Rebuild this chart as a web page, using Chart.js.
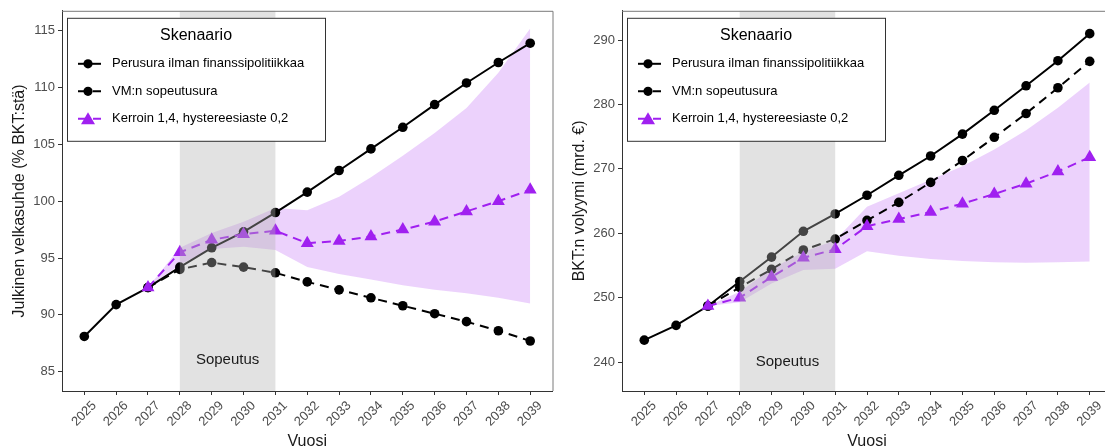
<!DOCTYPE html>
<html>
<head>
<meta charset="utf-8">
<script src="https://cdn.jsdelivr.net/npm/chart.js@4.4.1/dist/chart.umd.min.js"></script>
<style>
    html, body { margin: 0; padding: 0; background: #fff; overflow: hidden; }
    body { width: 1105px; height: 448px; position: relative; }
    .paneeli { position: absolute; top: 0; width: 560px; height: 448px; }
</style>
</head>
<body>
<div class="paneeli" style="left:0"><canvas id="velkaChart" width="560" height="448"></canvas></div>
<div class="paneeli" style="left:560px"><canvas id="bktChart" width="560" height="448"></canvas></div>
<script>
const vuodet = [2025, 2026, 2027, 2028, 2029, 2030, 2031, 2032, 2033, 2034, 2035, 2036, 2037, 2038, 2039];
const sopeutusJakso = [2028, 2031];
const legendaOtsikko = 'Skenaario';
const skenaariot = ['Perusura ilman finanssipolitiikkaa', 'VM:n sopeutusura', 'Kerroin 1,4, hystereesiaste 0,2'];

// Julkinen velkasuhde
const velkaTicks = [85, 90, 95, 100, 105, 110, 115];
const velkaPerusura = [88.1, 90.9, 92.4, 94.2, 95.9, 97.3, 99.0, 100.8, 102.7, 104.6, 106.5, 108.5, 110.4, 112.2, 113.9];
const velkaVM = [null, null, 92.4, 94.0, 94.6, 94.2, 93.7, 92.9, 92.2, 91.5, 90.8, 90.1, 89.4, 88.6, 87.7];
const velkaKerroin = [null, null, 92.4, 95.5, 96.6, 97.1, 97.4, 96.3, 96.5, 96.9, 97.5, 98.2, 99.1, 100.0, 101.0];
const velkaYla = [null, null, 92.4, 95.9, 97.2, 98.2, 99.4, 99.2, 100.4, 102.1, 104.0, 106.0, 108.2, 111.3, 115.2];
const velkaAla = [null, null, 92.4, 94.4, 95.8, 96.0, 95.7, 94.2, 93.6, 93.1, 92.6, 92.2, 91.9, 91.5, 91.0];

// BKT:n volyymi
const bktTicks = [240, 250, 260, 270, 280, 290];
const bktPerusura = [243.4, 245.7, 248.7, 252.5, 256.3, 260.3, 263.0, 265.9, 269.0, 272.0, 275.4, 279.1, 282.9, 286.8, 291.0];
const bktVM = [null, null, 248.7, 251.6, 254.4, 257.4, 259.1, 262.0, 264.8, 267.9, 271.3, 274.9, 278.6, 282.6, 286.7];
const bktKerroin = [null, null, 248.7, 250.0, 253.2, 256.2, 257.5, 261.1, 262.2, 263.3, 264.6, 266.1, 267.7, 269.6, 271.8];
const bktYla = [null, null, 248.7, 250.9, 254.5, 257.1, 258.9, 264.1, 266.2, 268.3, 270.4, 273.0, 276.0, 279.5, 283.4];
const bktAla = [null, null, 248.7, 249.3, 252.2, 254.3, 254.5, 257.2, 256.5, 256.0, 255.7, 255.5, 255.4, 255.5, 255.6];

const FONTTI = "'Liberation Sans', Arial, sans-serif";
const VIOLETTI = '#A020F0';
const VIOLETTI_TAYTTO = 'rgba(160, 32, 240, 0.2)';
const VIIVAUS = [9, 6];

function pisteet(arvot) {
    return vuodet.map((v, i) => ({ x: v, y: arvot[i] }));
}

// Harmaa sopeutusjakso, Sopeutus-teksti, reunat ja legenda
const koristeet = {
    id: 'koristeet',
    afterDatasetsDraw(chart, args, opts) {
        const { ctx, chartArea } = chart;
        const x = chart.scales.x;
        const y = chart.scales.y;
        const x0 = x.getPixelForValue(sopeutusJakso[0]);
        const x1 = x.getPixelForValue(sopeutusJakso[1]);
        ctx.save();
        ctx.fillStyle = 'rgba(179, 179, 179, 0.38)';
        ctx.fillRect(x0, chartArea.top, x1 - x0, chartArea.bottom - chartArea.top);

        ctx.fillStyle = '#1a1a1a';
        ctx.font = '15px ' + FONTTI;
        ctx.textAlign = 'center';
        ctx.textBaseline = 'middle';
        ctx.fillText('Sopeutus', (x0 + x1) / 2, y.getPixelForValue(opts.sopeutusY));
        ctx.restore();
    },
    afterDraw(chart) {
        const { ctx, chartArea } = chart;
        ctx.save();
        // ylä- ja oikea reuna
        ctx.strokeStyle = '#7a7a7a';
        ctx.lineWidth = 1;
        ctx.beginPath();
        ctx.moveTo(chartArea.left, chartArea.top + 0.5);
        ctx.lineTo(chartArea.right + 0.5, chartArea.top + 0.5);
        ctx.lineTo(chartArea.right + 0.5, chartArea.bottom);
        ctx.stroke();

        // legenda
        const lx = chartArea.left + 5;
        const ly = chartArea.top + 7;
        const lw = 258;
        const lh = 123;
        ctx.fillStyle = '#fff';
        ctx.fillRect(lx, ly, lw, lh);
        ctx.strokeStyle = '#333';
        ctx.strokeRect(lx + 0.5, ly + 0.5, lw, lh);

        ctx.fillStyle = '#000';
        ctx.font = '16px ' + FONTTI;
        ctx.textAlign = 'center';
        ctx.textBaseline = 'middle';
        ctx.fillText(legendaOtsikko, lx + lw / 2, ly + 18);

        const tyylit = [
            { vari: '#000', viiva: [], merkki: 'circle' },
            { vari: '#000', viiva: VIIVAUS, merkki: 'circle' },
            { vari: VIOLETTI, viiva: VIIVAUS, merkki: 'triangle' }
        ];
        ctx.font = '13px ' + FONTTI;
        ctx.textAlign = 'left';
        skenaariot.forEach((nimi, i) => {
            const yy = ly + 46 + i * 27.5;
            const t = tyylit[i];
            ctx.strokeStyle = t.vari;
            ctx.lineWidth = 2;
            ctx.setLineDash(t.viiva);
            ctx.beginPath();
            ctx.moveTo(lx + 11, yy);
            ctx.lineTo(lx + 34, yy);
            ctx.stroke();
            ctx.setLineDash([]);
            ctx.fillStyle = t.vari;
            ctx.beginPath();
            if (t.merkki === 'circle') {
                ctx.arc(lx + 21, yy, 4.6, 0, Math.PI * 2);
            } else {
                ctx.moveTo(lx + 21, yy - 6.5);
                ctx.lineTo(lx + 28, yy + 5.5);
                ctx.lineTo(lx + 14, yy + 5.5);
                ctx.closePath();
            }
            ctx.fill();
            ctx.fillStyle = '#000';
            ctx.fillText(nimi, lx + 45, yy);
        });
        ctx.restore();
    }
};

function luoKaavio(canvasId, asetukset) {
    const canvas = document.getElementById(canvasId);
    const ctx = canvas.getContext('2d');

    return new Chart(ctx, {
        type: 'line',
        data: {
            datasets: [
                {
                    label: skenaariot[2],
                    data: pisteet(asetukset.kerroin),
                    borderColor: VIOLETTI,
                    backgroundColor: VIOLETTI,
                    borderWidth: 2,
                    borderDash: VIIVAUS,
                    pointStyle: 'triangle',
                    pointRadius: 7.5,
                    pointBorderWidth: 0,
                    fill: false
                },
                {
                    label: skenaariot[1],
                    data: pisteet(asetukset.vm),
                    borderColor: '#000',
                    backgroundColor: '#000',
                    borderWidth: 2,
                    borderDash: VIIVAUS,
                    pointRadius: 4.8,
                    pointBorderWidth: 0,
                    fill: false
                },
                {
                    label: skenaariot[0],
                    data: pisteet(asetukset.perusura),
                    borderColor: '#000',
                    backgroundColor: '#000',
                    borderWidth: 2,
                    pointRadius: 4.8,
                    pointBorderWidth: 0,
                    fill: false
                },
                {
                    label: 'yla',
                    data: pisteet(asetukset.yla),
                    borderWidth: 0,
                    borderColor: 'rgba(0,0,0,0)',
                    backgroundColor: VIOLETTI_TAYTTO,
                    pointRadius: 0,
                    fill: '+1'
                },
                {
                    label: 'ala',
                    data: pisteet(asetukset.ala),
                    borderWidth: 0,
                    borderColor: 'rgba(0,0,0,0)',
                    pointRadius: 0,
                    fill: false
                }
            ]
        },
        options: {
            responsive: false,
            animation: false,
            events: [],
            layout: {
                padding: { top: 10, right: asetukset.oikeaPadding, left: 0, bottom: 0 }
            },
            plugins: {
                legend: { display: false },
                tooltip: { enabled: false },
                koristeet: { sopeutusY: asetukset.sopeutusY }
            },
            scales: {
                x: {
                    type: 'linear',
                    min: 2024.3,
                    max: 2039.7,
                    afterBuildTicks: (scale) => {
                        scale.ticks = vuodet.map(v => ({ value: v }));
                    },
                    afterFit: (scale) => {
                        scale.height = 57;
                    },
                    grid: {
                        drawOnChartArea: false,
                        tickLength: 4,
                        tickColor: '#333',
                        tickWidth: 1
                    },
                    border: { display: true, color: '#333', width: 1 },
                    ticks: {
                        autoSkip: false,
                        minRotation: 45,
                        maxRotation: 45,
                        padding: 3,
                        labelOffset: 10,
                        color: '#4d4d4d',
                        font: { family: FONTTI, size: 13 },
                        callback: (v) => String(v)
                    },
                    title: {
                        display: true,
                        text: 'Vuosi',
                        color: '#1a1a1a',
                        font: { family: FONTTI, size: 16, lineHeight: 0.8 },
                        padding: { top: 0, bottom: 0 }
                    }
                },
                y: {
                    min: asetukset.yMin,
                    max: asetukset.yMax,
                    afterBuildTicks: (scale) => {
                        scale.ticks = asetukset.ticks.map(v => ({ value: v }));
                    },
                    afterFit: (scale) => {
                        scale.width = 62;
                    },
                    grid: {
                        drawOnChartArea: false,
                        tickLength: 4,
                        tickColor: '#333',
                        tickWidth: 1
                    },
                    border: { display: true, color: '#333', width: 1 },
                    ticks: {
                        padding: 3,
                        color: '#4d4d4d',
                        font: { family: FONTTI, size: 13 },
                        callback: (v) => String(v)
                    },
                    title: {
                        display: true,
                        text: asetukset.yOtsikko,
                        color: '#1a1a1a',
                        font: { family: FONTTI, size: 16 },
                        padding: { top: 10, bottom: 0 }
                    }
                }
            }
        },
        plugins: [koristeet]
    });
}

luoKaavio('velkaChart', {
    perusura: velkaPerusura,
    vm: velkaVM,
    kerroin: velkaKerroin,
    yla: velkaYla,
    ala: velkaAla,
    ticks: velkaTicks,
    yMin: 83.3,
    yMax: 116.75,
    yOtsikko: 'Julkinen velkasuhde (% BKT:stä)',
    sopeutusY: 86,
    oikeaPadding: 7
});

luoKaavio('bktChart', {
    perusura: bktPerusura,
    vm: bktVM,
    kerroin: bktKerroin,
    yla: bktYla,
    ala: bktAla,
    ticks: bktTicks,
    yMin: 235.5,
    yMax: 294.55,
    yOtsikko: 'BKT:n volyymi (mrd. €)',
    sopeutusY: 240,
    oikeaPadding: 8
});
</script>
</body>
</html>
